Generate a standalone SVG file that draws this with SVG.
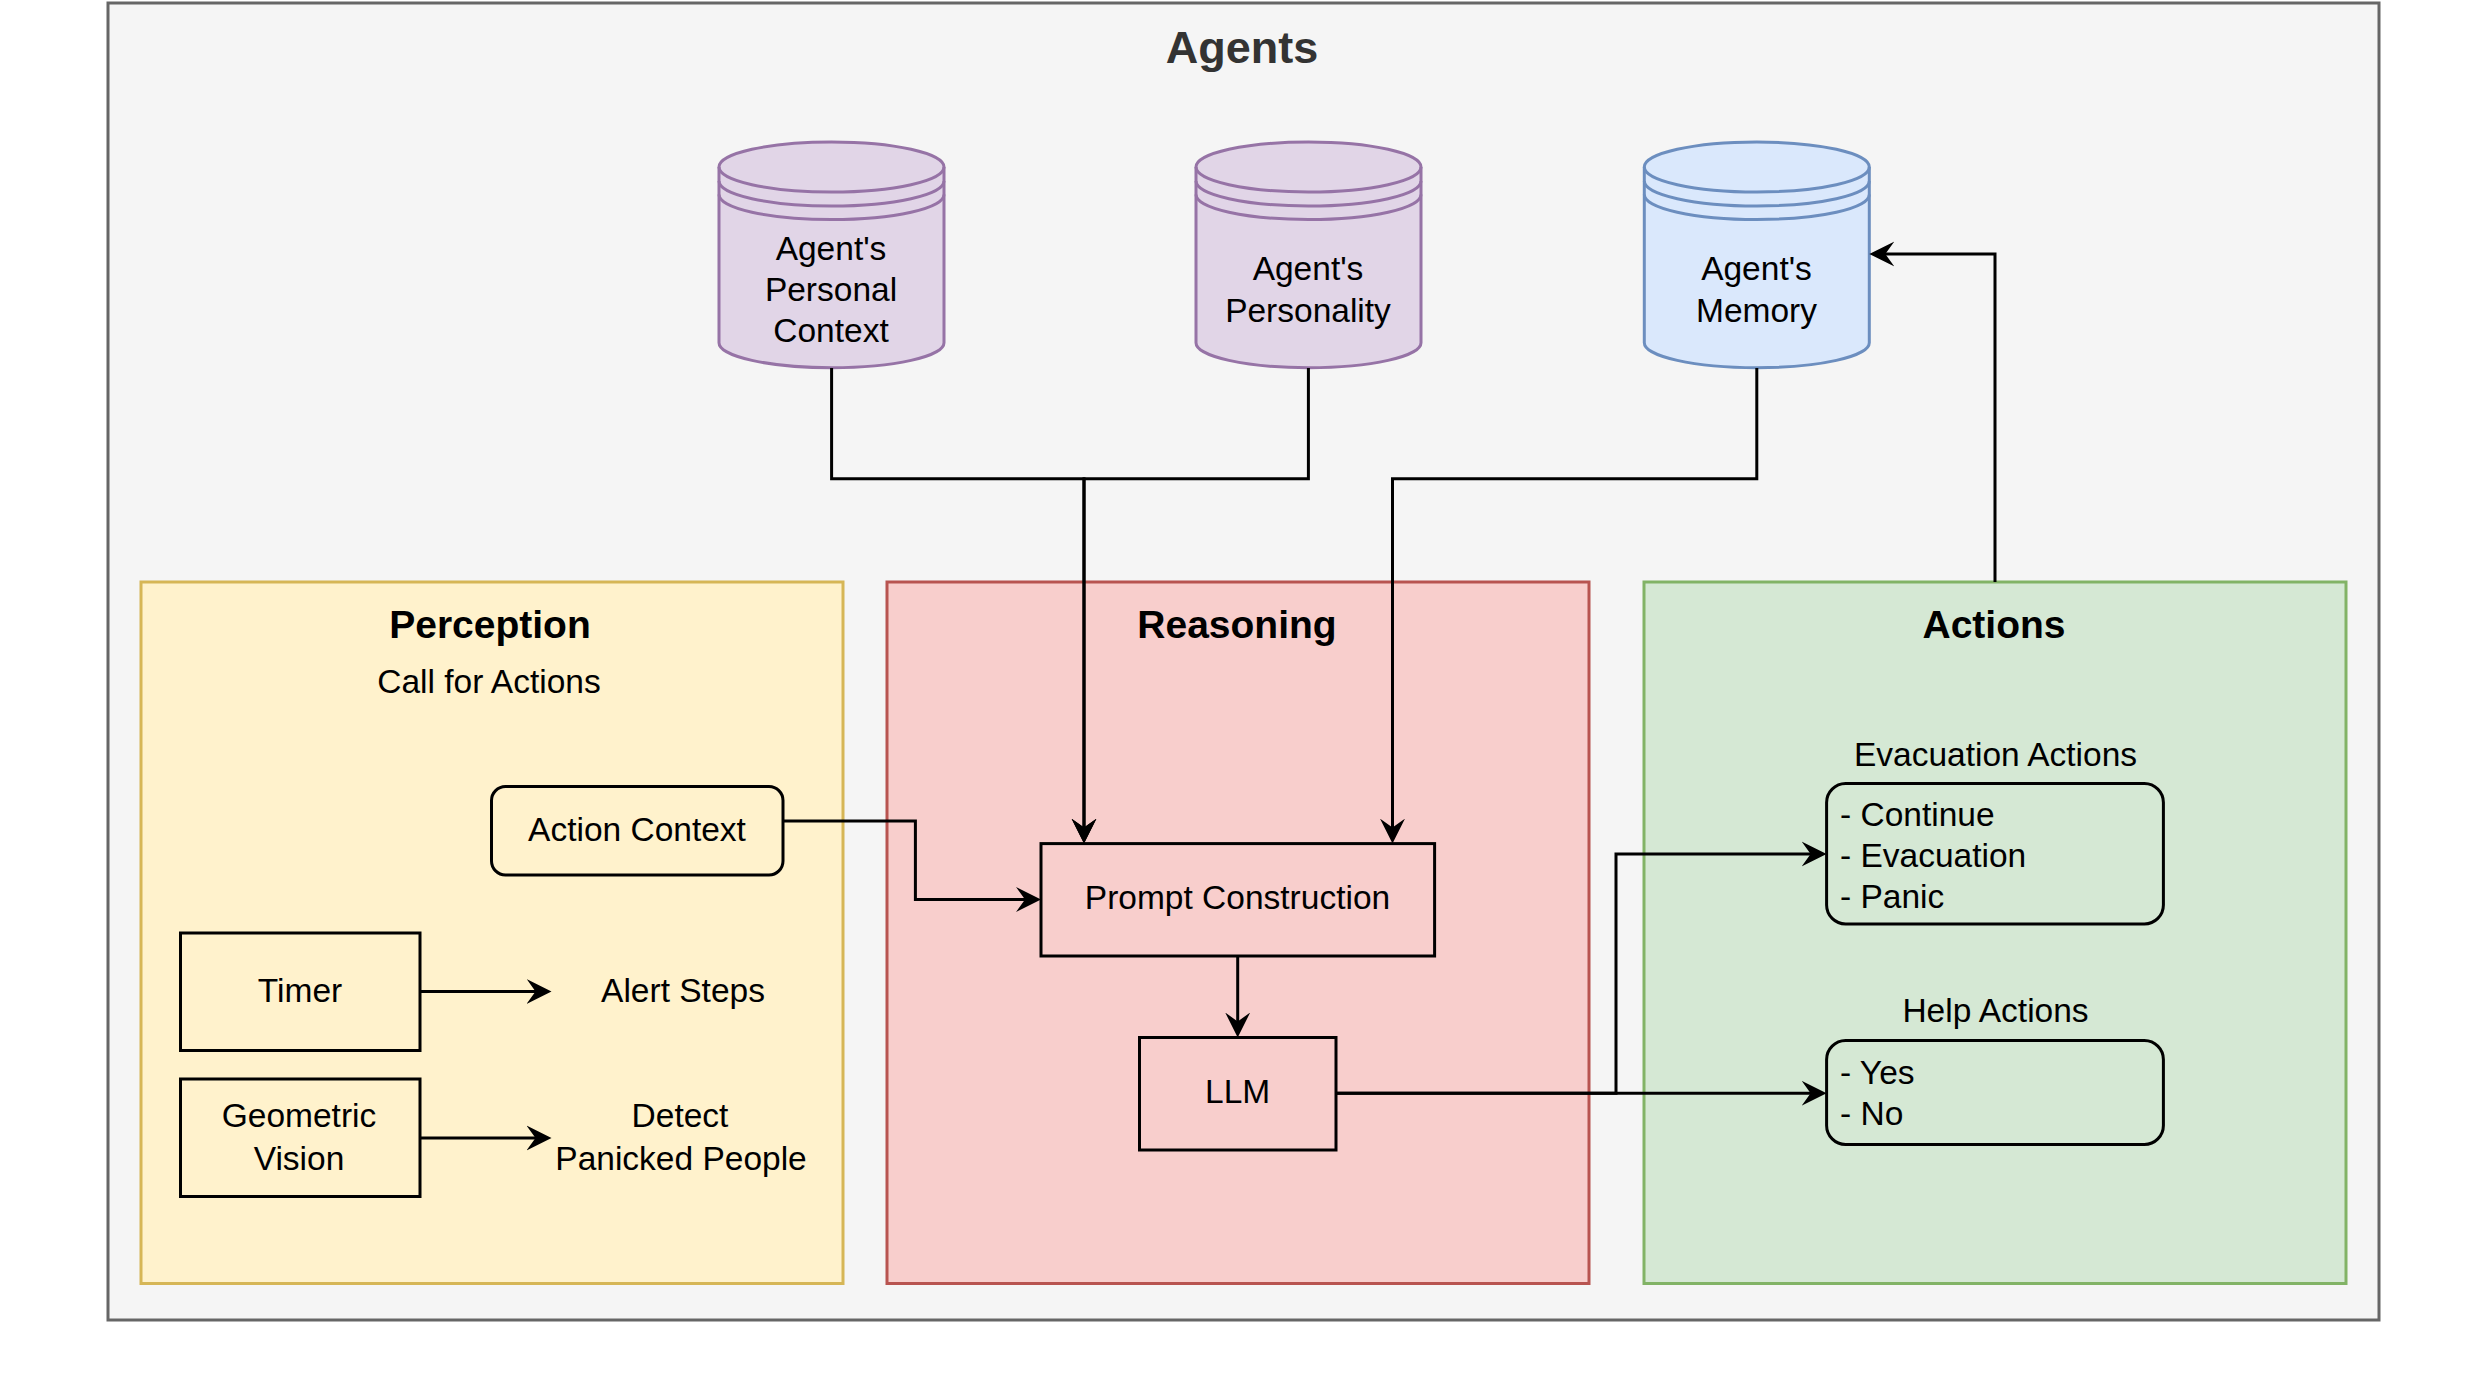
<svg xmlns="http://www.w3.org/2000/svg" width="2479" height="1395" viewBox="0 0 2479 1395">
<style>
text{font-family:"Liberation Sans",Arial,sans-serif;font-size:33.5px;fill:#000;text-anchor:middle}
.title{font-size:39px;font-weight:bold}
.big{font-size:45px;font-weight:bold;fill:#333333}
.left{text-anchor:start}
.box{fill:none;stroke:#000;stroke-width:3}
.conn{fill:none;stroke:#000;stroke-width:3}
.arr{marker-end:url(#arrow)}
.purple{fill:#e1d5e7;stroke:#9673a6;stroke-width:3}
.blue{fill:#dae8fc;stroke:#6c8ebf;stroke-width:3}
.pline{fill:none;stroke:#9673a6;stroke-width:3}
.bline{fill:none;stroke:#6c8ebf;stroke-width:3}
</style>
<defs>
<marker id="arrow" viewBox="0 0 26 26" markerWidth="26" markerHeight="26" markerUnits="userSpaceOnUse" refX="10" refY="13" orient="auto">
<path d="M0,0.5 L25,13 L0,25.5 L9,13 Z" fill="#000"/>
</marker>
</defs>
<rect width="2479" height="1395" fill="#ffffff"/>
<g id="agents">
<rect x="108" y="3" width="2271" height="1317" fill="#f5f5f5" stroke="#666666" stroke-width="3"/>
<text class="big" x="1242" y="63">Agents</text>
</g>
<g id="perception">
<rect x="141" y="582" width="702" height="701.5" fill="#fff2cc" stroke="#d6b656" stroke-width="3"/>
<text class="title" x="490" y="638">Perception</text>
<text x="489" y="693">Call for Actions</text>
</g>
<g id="reasoning">
<rect x="887" y="582" width="702" height="701.5" fill="#f8cecc" stroke="#b85450" stroke-width="3"/>
<text class="title" x="1237" y="638">Reasoning</text>
</g>
<g id="actions">
<rect x="1644" y="582" width="702" height="701.5" fill="#d5e8d4" stroke="#82b366" stroke-width="3"/>
<text class="title" x="1994" y="638">Actions</text>
</g>
<g id="personal-context">
<path class="purple" d="M719,167 A112.5,25 0 0 1 944,167 V342.7 A112.5,25 0 0 1 719,342.7 Z"/>
<path class="pline" d="M719,167 A112.5,25 0 0 0 944,167 M719,181 A112.5,25 0 0 0 944,181 M719,194.5 A112.5,25 0 0 0 944,194.5"/>
<text x="831" y="260">Agent's</text>
<text x="831" y="301">Personal</text>
<text x="831" y="342">Context</text>
</g>
<g id="personality">
<path class="purple" d="M1196,167 A112.5,25 0 0 1 1421,167 V342.7 A112.5,25 0 0 1 1196,342.7 Z"/>
<path class="pline" d="M1196,167 A112.5,25 0 0 0 1421,167 M1196,181 A112.5,25 0 0 0 1421,181 M1196,194.5 A112.5,25 0 0 0 1421,194.5"/>
<text x="1308" y="280">Agent's</text>
<text x="1308" y="322">Personality</text>
</g>
<g id="memory">
<path class="blue" d="M1644.3,167 A112.5,25 0 0 1 1869.3,167 V342.7 A112.5,25 0 0 1 1644.3,342.7 Z"/>
<path class="bline" d="M1644.3,167 A112.5,25 0 0 0 1869.3,167 M1644.3,181 A112.5,25 0 0 0 1869.3,181 M1644.3,194.5 A112.5,25 0 0 0 1869.3,194.5"/>
<text x="1756.5" y="280">Agent's</text>
<text x="1756.5" y="322">Memory</text>
</g>
<g id="action-context">
<rect class="box" x="491.5" y="786.5" width="291.5" height="88.5" rx="14"/>
<text x="637" y="841">Action Context</text>
</g>
<g id="timer">
<rect class="box" x="180.5" y="933" width="239.5" height="117.5"/>
<text x="300" y="1002">Timer</text>
</g>
<g id="alert-steps">
<text x="683" y="1002">Alert Steps</text>
</g>
<g id="geometric-vision">
<rect class="box" x="180.5" y="1079" width="239.5" height="117.5"/>
<text x="299" y="1127">Geometric</text>
<text x="299" y="1170">Vision</text>
</g>
<g id="detect">
<text x="680" y="1127">Detect</text>
<text x="681" y="1170">Panicked People</text>
</g>
<g id="prompt-construction">
<rect class="box" x="1041" y="843.6" width="393.6" height="112.4"/>
<text x="1237.5" y="909">Prompt Construction</text>
</g>
<g id="llm">
<rect class="box" x="1139.5" y="1037.5" width="196.5" height="112.5"/>
<text x="1237.7" y="1103">LLM</text>
</g>
<g id="evacuation-actions">
<text x="1995.5" y="766">Evacuation Actions</text>
<rect class="box" x="1826.6" y="783.5" width="336.8" height="140.5" rx="19"/>
<text class="left" x="1840" y="826">- Continue</text>
<text class="left" x="1840" y="867">- Evacuation</text>
<text class="left" x="1840" y="908">- Panic</text>
</g>
<g id="help-actions">
<text x="1995.5" y="1022">Help Actions</text>
<rect class="box" x="1826.6" y="1040.5" width="336.8" height="104" rx="19"/>
<text class="left" x="1840" y="1084">- Yes</text>
<text class="left" x="1840" y="1125">- No</text>
</g>
<g id="connectors">
<path class="conn arr" d="M831.6,368 V478.7 H1084 V828.6"/>
<path class="conn arr" d="M1308.4,368 V478.7 H1084 V828.6"/>
<path class="conn arr" d="M1756.8,368 V478.7 H1392.5 V828.6"/>
<path class="conn arr" d="M783,821 H915.4 V899.5 H1026"/>
<path class="conn arr" d="M1237.7,956 V1022.5"/>
<path class="conn arr" d="M1336,1093.3 H1811.6"/>
<path class="conn arr" d="M1336,1093.3 H1616 V854 H1811.6"/>
<path class="conn arr" d="M1995,582 V254 H1884.3"/>
<path class="conn arr" d="M420,991.4 H536.5"/>
<path class="conn arr" d="M420,1138 H536.5"/>
</g>
</svg>
